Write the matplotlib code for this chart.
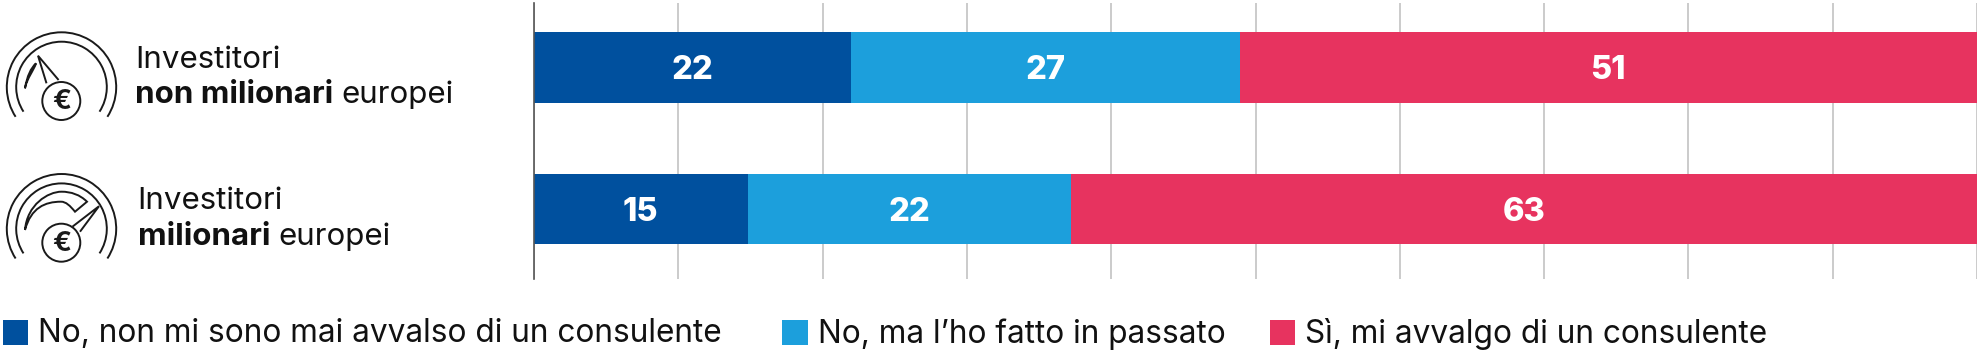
import numpy as np
import matplotlib
matplotlib.use("Agg")
import matplotlib.pyplot as plt
from matplotlib.patches import Arc, Circle, Polygon, Rectangle, PathPatch
from matplotlib.path import Path

W, H = 1977, 351
FONT = "Inter"

groups = ["non milionari", "milionari"]
series_labels = ["No, non mi sono mai avvalso di un consulente",
                 "No, ma l’ho fatto in passato",
                 "Sì, mi avvalgo di un consulente"]
series_no_never = [22.0, 14.8]
series_no_past = [26.9, 22.4]
series_yes = [51.1, 62.8]
colors = ["#00509E", "#1C9FDC", "#E7335F"]
x_ticks = list(range(0, 101, 10))

fig = plt.figure(figsize=(W / 100, H / 100), dpi=100, facecolor="white")
plt.rcParams["font.family"] = FONT


def axes_px(x0, y0, x1, y1, **kw):
    return fig.add_axes([x0 / W, 1 - y1 / H, (x1 - x0) / W, (y1 - y0) / H], **kw)


# --- chart ---
ax = axes_px(534, 2.7, 1977, 279)
ax.set_xlim(0, 100)
ax.set_ylim(1.495, -0.458)
ypos = np.arange(len(groups))
left = np.zeros(len(groups))
for vals, col in zip([series_no_never, series_no_past, series_yes], colors):
    ax.barh(ypos, vals, left=left, height=0.5, color=col, zorder=3)
    for y, v, l in zip(ypos, vals, left):
        ax.text(l + v / 2, y, f"{v:.0f}", color="white", fontsize=23.5, fontweight=800,
                ha="center", va="center_baseline", zorder=4, family=FONT)
    left = left + np.array(vals)
ax.set_xticks(x_ticks)
ax.set_yticks([])
ax.tick_params(length=0, labelbottom=False)
ax.grid(axis="x", color="#BDBDBD", lw=1.1, zorder=1)
for s in ["top", "right", "bottom"]:
    ax.spines[s].set_visible(False)
ax.spines["left"].set_color("#555555")
ax.spines["left"].set_linewidth(1.2)
ax.spines["left"].set_zorder(5)

# --- overlay in pixel coordinates ---
ov = axes_px(0, 0, W, H)
ov.set_xlim(0, W)
ov.set_ylim(H, 0)
ov.axis("off")
ov.patch.set_alpha(0)

C = Path.CURVE4
k = "#1A1A1A"
lw = 1.4


def gauge(dy, tip, b1, b2, band_pts, band_codes):
    cx, cy = 61.5, 87 + dy
    for r in (54.7, 45.3):
        # y axis is inverted: angles run clockwise on screen
        ov.add_patch(Arc((cx, cy), 2 * r, 2 * r, theta1=180 - 33, theta2=360 + 33, color=k, lw=lw))
    ccx, ccy = 61.3, 101 + dy
    ov.add_patch(Polygon([(x, y + dy) for x, y in [b1, tip, b2]], closed=False, fill=False,
                         ec=k, lw=lw, joinstyle="miter"))
    ov.add_patch(Circle((ccx, ccy), 19, fc="white", ec=k, lw=lw, zorder=2))
    ov.add_patch(PathPatch(Path([(x, y + dy) for x, y in band_pts], band_codes), fill=False,
                           ec=k, lw=lw, joinstyle="miter"))
    ov.text(ccx, ccy + 1, "€", fontsize=20, fontweight="bold", color=k, ha="center", va="center", zorder=3)


# icon 1: short band, needle to upper left
gauge(0, (38, 55.7), (46.5, 83.3), (58.6, 80),
      [(25, 88.3), (27, 76), (31, 68), (36, 63.3), (34, 70), (27, 78), (25, 88.3)],
      [Path.MOVETO, C, C, C, C, C, C])
# icon 2: long band, needle to upper right
gauge(141.7, (99, 64.5), (72.4, 85), (80, 90),
      [(25, 88.3), (27, 63), (48, 50), (61.5, 50), (71, 50), (80, 53), (87, 60), (75, 70),
       (70, 64), (66, 60), (61, 60), (45, 60), (31, 66), (25, 88.3)],
      [Path.MOVETO, C, C, C, C, C, C, Path.LINETO, C, C, C, C, C, C])

r = fig.canvas.get_renderer()


def row(x, y, parts, size):
    for txt, wt in parts:
        t = ov.text(x, y, txt, fontsize=size, fontweight=wt, color="#111111", ha="left", va="baseline")
        x += t.get_window_extent(r).width + 8


LAB = 22.5
row(135, 68.3, [("Investitori", "normal")], LAB)
row(135, 102.7, [("non milionari", "bold"), ("europei", "normal")], LAB)
row(137.5, 208.7, [("Investitori", "normal")], LAB)
row(137.5, 245, [("milionari", "bold"), ("europei", "normal")], LAB)

# --- legend ---
swatches = [(3.4, 28), (782, 808), (1269.5, 1295)]
text_x = [38, 818, 1305]
for (a, b), tx, lab, col in zip(swatches, text_x, series_labels, colors):
    ov.add_patch(Rectangle((a, 320), b - a, 24.5, fc=col, ec="none"))
    ov.text(tx, 342.5, lab, fontsize=22.75, color="#111111", ha="left", va="baseline")

fig.savefig("out.png", dpi=100, facecolor="white")
